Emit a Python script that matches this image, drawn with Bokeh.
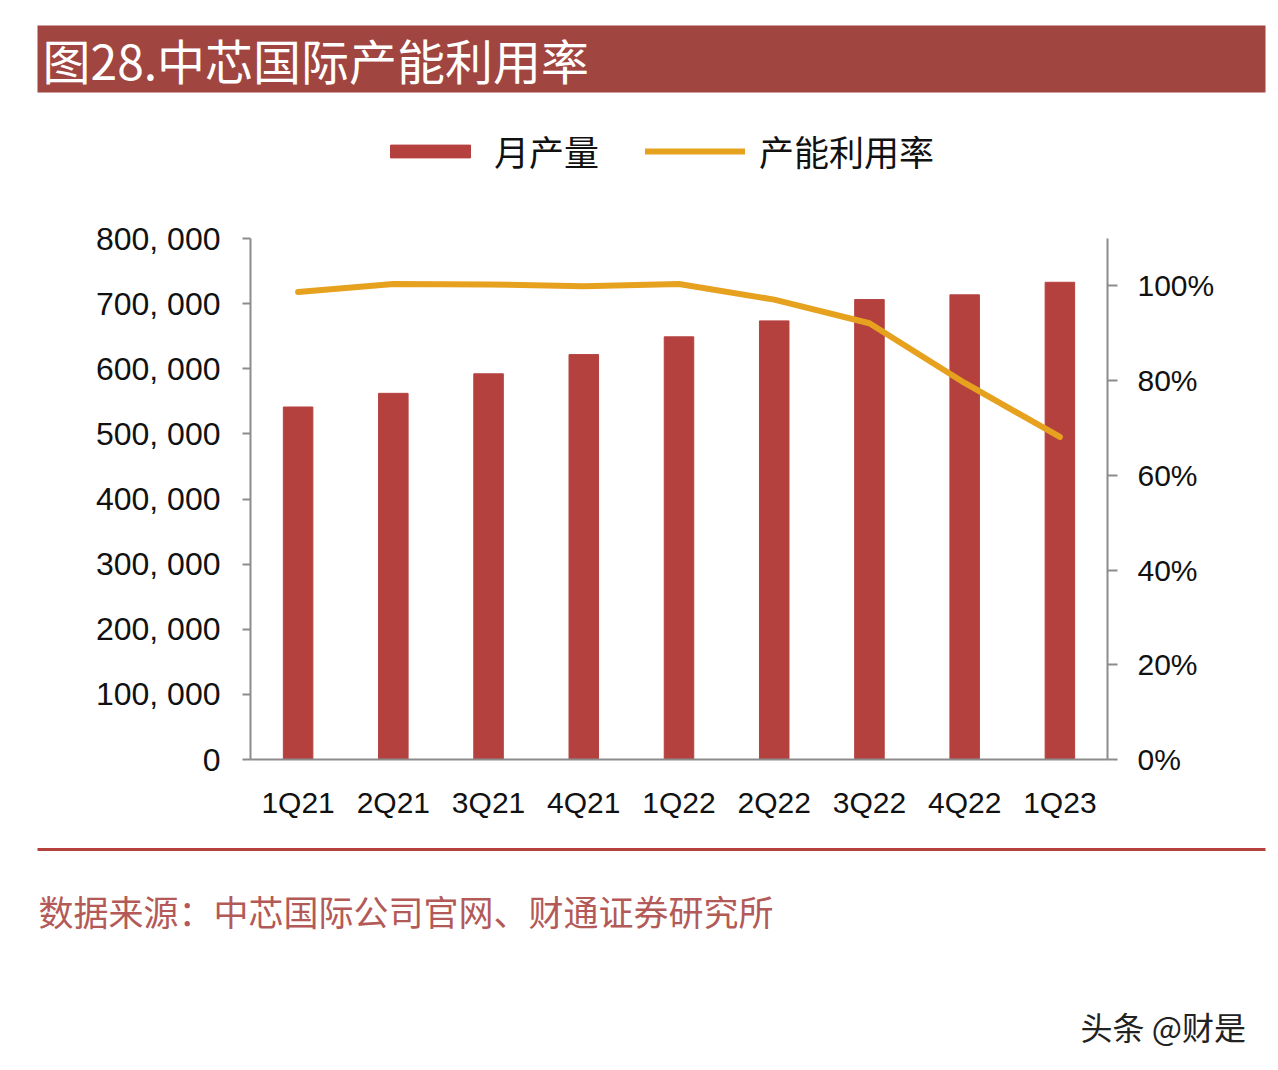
from bokeh.embed import file_html
from bokeh.models import (FixedTicker, Label, Legend, LegendItem, LinearAxis,
                          NumeralTickFormatter, Range1d)
from bokeh.plotting import figure
from bokeh.resources import INLINE

BAR_RED = "#B5413F"
LINE_ORANGE = "#E6A11F"
BANNER = "#A0453F"
AXIS_GREY = "#8C8C8C"
TEXT = "#111111"
CJK = "Noto Sans CJK SC"
LATIN = "Liberation Sans"

quarters = ["1Q21", "2Q21", "3Q21", "4Q21", "1Q22", "2Q22", "3Q22", "4Q22", "1Q23"]
# monthly capacity, 8-inch equivalent wafers
capacity = [541250, 562250, 592250, 621750, 649000, 673500, 706250, 713500, 732750]
# capacity utilisation
utilisation = [0.987, 1.004, 1.003, 0.999, 1.004, 0.971, 0.921, 0.795, 0.681]

left_ticks = [0, 100000, 200000, 300000, 400000, 500000, 600000, 700000, 800000]
right_ticks = [0.0, 0.2, 0.4, 0.6, 0.8, 1.0]
LEFT_MAX = 800000
RIGHT_MAX = 1.1

title_text = "图28.中芯国际产能利用率"
source_text = "数据来源：中芯国际公司官网、财通证券研究所"
watermark_text = "头条 @财是"

# page geometry (px): canvas and the plot area inside it
W, H = 1270, 1062
PL, PR, PT, PB = 250, 1107, 238, 759

slot = (PR - PL) / len(quarters)
x_lo = -0.5 - PL / slot
x_hi = x_lo + W / slot


def y_span(top_value):
    per_px = top_value / (PB - PT)
    return Range1d(-(H - PB) * per_px, PB * per_px)


p = figure(width=W, height=H, output_backend="svg", toolbar_location=None,
           x_range=Range1d(x_lo, x_hi), y_range=y_span(LEFT_MAX),
           x_axis_location=None, y_axis_location=None,
           background_fill_color="white", border_fill_color="white")
p.min_border = 0
p.outline_line_color = None
p.grid.visible = False
p.extra_y_ranges = {"pct": y_span(RIGHT_MAX), "px": Range1d(H, 0)}
p.extra_x_ranges = {"px": Range1d(0, W)}

positions = list(range(len(quarters)))
bars = p.vbar(x=positions, top=capacity, width=0.31, fill_color=BAR_RED,
              line_color=BAR_RED)
util_line = p.line(positions, utilisation, y_range_name="pct", color=LINE_ORANGE,
                   line_width=6, line_cap="round", line_join="round")


def style_axis(ax, font_size, tick_out):
    ax.major_label_text_font = LATIN
    ax.major_label_text_font_size = font_size
    ax.major_label_text_color = TEXT
    ax.major_tick_out = tick_out
    ax.major_tick_in = 0
    ax.minor_tick_out = 0
    ax.minor_tick_in = 0
    ax.axis_line_color = AXIS_GREY
    ax.major_tick_line_color = AXIS_GREY
    ax.axis_line_width = 2
    ax.major_tick_line_width = 2


left = LinearAxis(ticker=FixedTicker(ticks=left_ticks), bounds=(0, LEFT_MAX),
                  fixed_location=-0.5, major_label_standoff=22,
                  major_label_overrides={v: f"{v:,}".replace(",", ", ")
                                         for v in left_ticks})
style_axis(left, "32px", 8)
p.add_layout(left, "left")

right = LinearAxis(y_range_name="pct", ticker=FixedTicker(ticks=right_ticks),
                   formatter=NumeralTickFormatter(format="0%"),
                   bounds=(0, RIGHT_MAX), fixed_location=len(quarters) - 0.5,
                   major_label_standoff=20)
style_axis(right, "30px", 10)
p.add_layout(right, "right")

bottom = LinearAxis(ticker=FixedTicker(ticks=positions), fixed_location=0,
                    bounds=(-0.5, len(quarters) - 0.5), major_label_standoff=26,
                    major_label_overrides=dict(zip(positions, quarters)))
style_axis(bottom, "30px", 0)
p.add_layout(bottom, "below")

# header banner
p.quad(left=37, right=1265, top=25, bottom=92, fill_color=BANNER,
       line_color=None, x_range_name="px", y_range_name="px")
p.add_layout(Label(x=42, y=58, x_range_name="px", y_range_name="px",
                   text=title_text, text_font=CJK, text_font_size="48px",
                   text_color="white", text_baseline="middle"))

legend = Legend(items=[LegendItem(label="月产量", renderers=[bars]),
                       LegendItem(label="产能利用率", renderers=[util_line])],
                orientation="horizontal", location=(380, H - 176),
                glyph_width=100, glyph_height=16, label_standoff=14, spacing=46,
                label_text_font=CJK, label_text_font_size="35px",
                label_text_color=TEXT, padding=0, margin=0,
                border_line_color=None, background_fill_alpha=0)
p.add_layout(legend)

# footer rule, source and watermark
p.quad(left=37, right=1265, top=847.5, bottom=850.5, fill_color=BAR_RED,
       line_color=None, x_range_name="px", y_range_name="px")
p.add_layout(Label(x=38, y=910, x_range_name="px", y_range_name="px",
                   text=source_text, text_font=CJK, text_font_size="35px",
                   text_color="#B35A58", text_baseline="middle"))
p.add_layout(Label(x=1080, y=1025, x_range_name="px", y_range_name="px",
                   text=watermark_text, text_font=CJK, text_font_size="32px",
                   text_color="#222222", text_baseline="middle"))

open("out.html", "w").write(file_html(p, INLINE))
